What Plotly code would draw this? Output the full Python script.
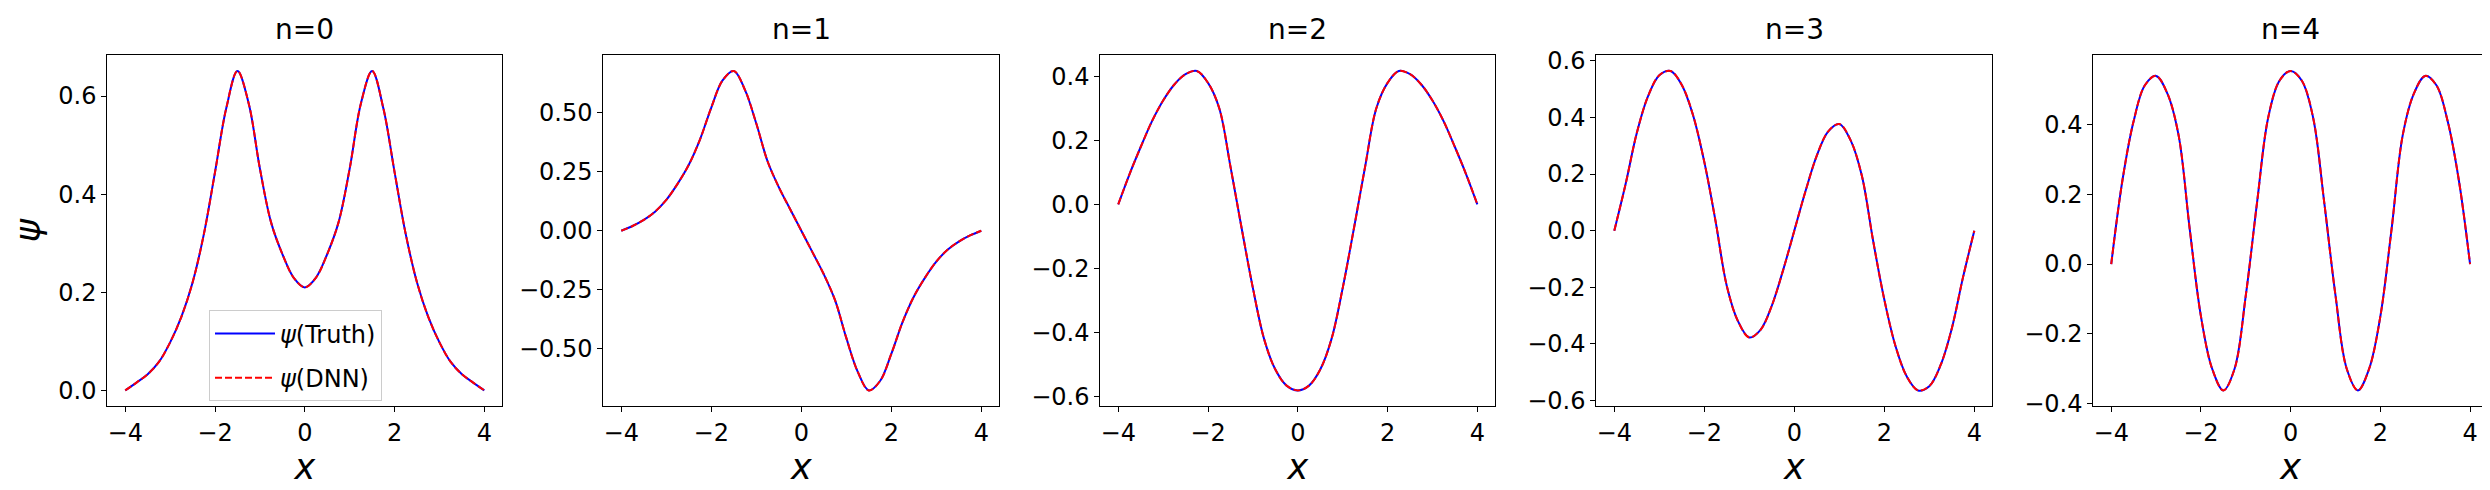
import plotly.graph_objects as go

x_grid = [-4.0, -3.75, -3.5, -3.25, -3.0, -2.75, -2.5, -2.25, -2.0, -1.75, -1.5, -1.25, -1.0, -0.75, -0.5, -0.25,
          0.0, 0.25, 0.5, 0.75, 1.0, 1.25, 1.5, 1.75, 2.0, 2.25, 2.5, 2.75, 3.0, 3.25, 3.5, 3.75, 4.0]

psi_n0 = [0.0, 0.016, 0.033, 0.058, 0.098, 0.150, 0.220, 0.318, 0.445, 0.575, 0.651, 0.585, 0.452, 0.342, 0.278, 0.230,
          0.210, 0.230, 0.278, 0.342, 0.452, 0.585, 0.651, 0.575, 0.445, 0.318, 0.220, 0.150, 0.098, 0.058, 0.033, 0.016, 0.0]
psi_n1 = [0.0, 0.020, 0.046, 0.081, 0.131, 0.199, 0.280, 0.388, 0.523, 0.638, 0.678, 0.597, 0.455, 0.295, 0.185, 0.092,
          0.0, -0.092, -0.185, -0.295, -0.455, -0.597, -0.678, -0.638, -0.523, -0.388, -0.280, -0.199, -0.131, -0.081, -0.046, -0.020, 0.0]
psi_n2 = [0.0, 0.094, 0.179, 0.259, 0.324, 0.374, 0.406, 0.416, 0.379, 0.300, 0.118, -0.075, -0.261, -0.420, -0.515, -0.565,
          -0.580, -0.565, -0.515, -0.420, -0.261, -0.075, 0.118, 0.300, 0.379, 0.416, 0.406, 0.374, 0.324, 0.259, 0.179, 0.094, 0.0]
psi_n3 = [0.0, 0.164, 0.345, 0.475, 0.549, 0.564, 0.515, 0.408, 0.243, 0.034, -0.195, -0.320, -0.377, -0.350, -0.265, -0.140,
          0.0, 0.140, 0.265, 0.350, 0.377, 0.320, 0.195, -0.034, -0.243, -0.408, -0.515, -0.564, -0.549, -0.475, -0.345, -0.164, 0.0]
psi_n4 = [0.0, 0.240, 0.410, 0.512, 0.539, 0.489, 0.370, 0.100, -0.150, -0.300, -0.362, -0.300, -0.090, 0.175, 0.420, 0.525,
          0.553, 0.525, 0.420, 0.175, -0.090, -0.300, -0.362, -0.300, -0.150, 0.100, 0.370, 0.489, 0.539, 0.512, 0.410, 0.240, 0.0]

panel_titles = ["n=0", "n=1", "n=2", "n=3", "n=4"]
panel_psi = [psi_n0, psi_n1, psi_n2, psi_n3, psi_n4]
y_dtick = [0.2, 0.25, 0.2, 0.2, 0.2]
y_format = [".1f", ".2f", ".1f", ".1f", ".1f"]

FONT = "DejaVu Sans"
W, H = 2490, 490
x_domains = [(99.3, 494.3), (595.3, 991.3), (1092.3, 1487.3), (1588.3, 1984.3), (2085.3, 2480.0)]
y_domain = [1 - 407 / H, 1 - 40.7 / H]

fig = go.Figure()
layout = {}
annotations = []

for i, (title, psi) in enumerate(zip(panel_titles, panel_psi)):
    k = "" if i == 0 else str(i + 1)
    xa, ya = "x" + k, "y" + k
    first = i == 0
    fig.add_trace(go.Scatter(
        x=x_grid, y=psi, xaxis=xa, yaxis=ya, mode="lines", name="<i>ψ</i>(Truth)",
        line=dict(color="blue", width=2, shape="spline"),
        showlegend=first, legendgroup="truth",
    ))
    fig.add_trace(go.Scatter(
        x=x_grid, y=psi, xaxis=xa, yaxis=ya, mode="lines", name="<i>ψ</i>(DNN)",
        line=dict(color="red", width=2, dash="7px,3px", shape="spline"),
        showlegend=first, legendgroup="dnn",
    ))

    lo, hi = min(psi), max(psi)
    pad = 0.05 * (hi - lo)
    d0, d1 = x_domains[i]
    axis_common = dict(
        showline=True, mirror=True, linecolor="black", linewidth=1,
        ticks="outside", ticklen=5, tickwidth=1, tickcolor="black",
        showgrid=False, zeroline=False,
        tickfont=dict(family=FONT, size=24, color="black"),
    )
    layout["xaxis" + k] = dict(
        axis_common, domain=[d0 / W, d1 / W], anchor=ya,
        range=[-4.4, 4.4], tick0=-4, dtick=2,
        title=dict(text="<i>x</i>", font=dict(family=FONT, size=35, color="black"), standoff=4),
    )
    layout["yaxis" + k] = dict(
        axis_common, domain=y_domain, anchor=xa,
        range=[lo - pad, hi + pad], tick0=0, dtick=y_dtick[i], tickformat=y_format[i],
    )
    if first:
        layout["yaxis"]["title"] = dict(text="<i>ψ</i>", font=dict(family=FONT, size=35, color="black"), standoff=8)

    annotations.append(dict(
        text=title, xref="paper", yref="paper", x=(d0 + d1) / 2 / W, y=1 - 33 / H,
        xanchor="center", yanchor="bottom", showarrow=False,
        font=dict(family=FONT, size=28, color="black"),
    ))

fig.update_layout(
    **layout,
    annotations=annotations,
    width=W, height=H,
    margin=dict(l=0, r=0, t=0, b=0),
    paper_bgcolor="white", plot_bgcolor="white",
    font=dict(family=FONT, color="black"),
    legend=dict(
        x=201 / W, y=1 - 307 / H, xanchor="left", yanchor="top",
        font=dict(family=FONT, size=24, color="black"),
        bgcolor="rgba(255,255,255,0.8)", bordercolor="#cccccc", borderwidth=1,
        tracegroupgap=10, traceorder="grouped", itemwidth=60,
    ),
)

fig.write_html("out.html")
